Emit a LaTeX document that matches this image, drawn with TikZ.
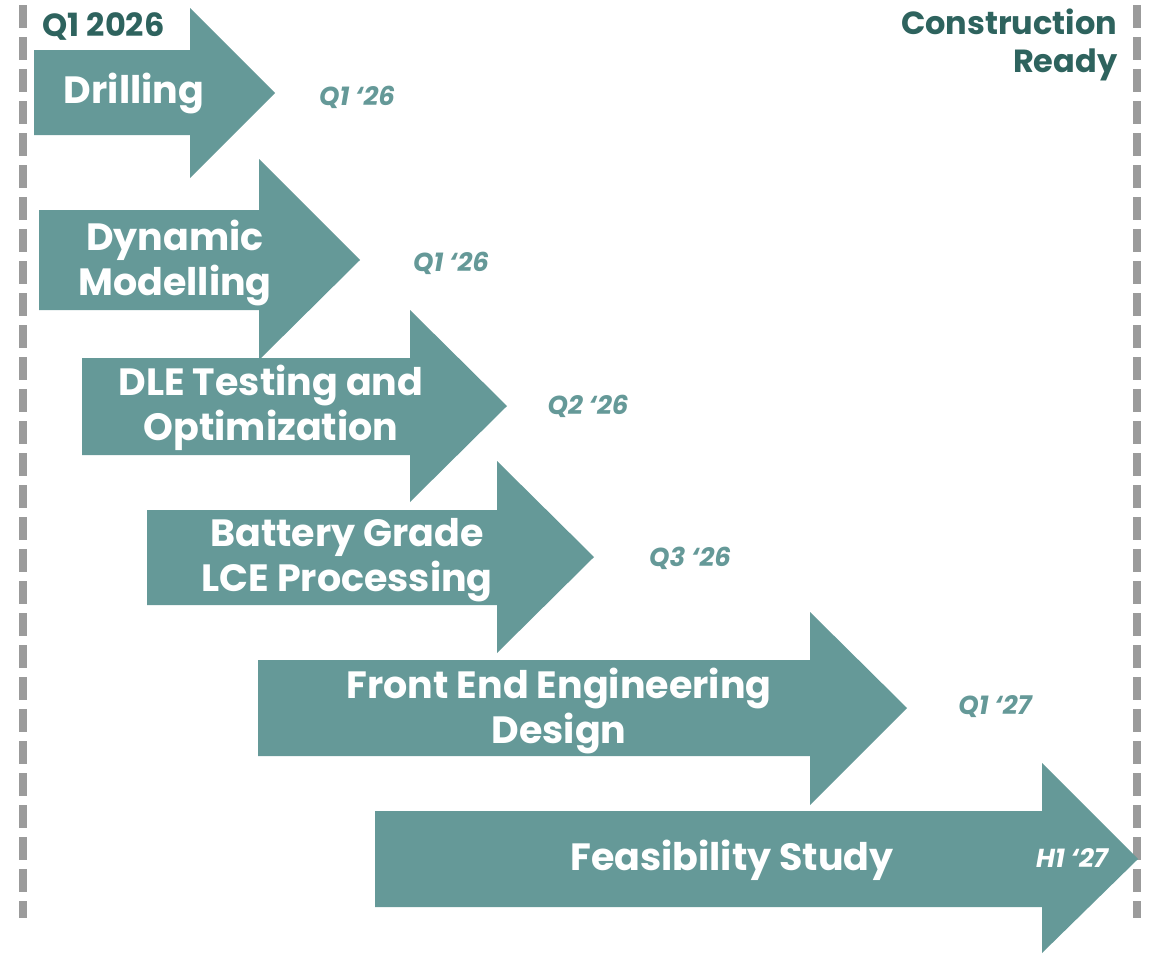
\documentclass[tikz,border=0pt]{standalone}
\usepackage{fontspec}
\setmainfont{Poppins}
\definecolor{stagefill}{RGB}{101,153,152}
\definecolor{tealdark}{RGB}{46,99,94}
\definecolor{guidegray}{RGB}{155,155,155}

\begin{document}
\begin{tikzpicture}[x=0.75pt,y=-0.75pt,
  stage/.style={fill=stagefill},
  stagelbl/.style={text=white,align=center,font=\bfseries\fontsize{28.5}{33.5}\selectfont},
  due/.style={text=stagefill,font=\bfseries\itshape\fontsize{19.5}{22}\selectfont},
  edge/.style={text=tealdark,font=\bfseries\fontsize{24}{29}\selectfont},
  guide/.style={guidegray,line width=6pt,dash pattern=on 17.5pt off 6.5pt}]

\useasboundingbox (0,0) rectangle (1155,953);

% start and end lines
\draw[guide] (23,5) -- (23,918);
\draw[guide] (1137,5) -- (1137,918);
\node[edge,anchor=west] (start) at (38,26) {Q1 2026};
\node[edge,anchor=east,align=right] (ready) at (1122,45) {Construction\\Ready};

% (1) drilling
\fill[stage] (34,50) -- (190,50) -- (190,8) -- (275,93) -- (190,178) -- (190,135) -- (34,135) -- cycle;
\node[stagelbl] (drill) at (134,94) {Drilling};
\node[due] (drilld) at (357,97) {Q1 ‘26};

% (2) dynamic modelling
\fill[stage] (39,210) -- (259,210) -- (259,159) -- (360,260) -- (259,360) -- (259,310) -- (39,310) -- cycle;
\node[stagelbl] (model) at (175,263) {Dynamic\\Modelling};
\node[due] (modeld) at (451,263) {Q1 ‘26};

% (3) DLE testing
\fill[stage] (82,358) -- (410,358) -- (410,310) -- (507,406) -- (410,502) -- (410,455) -- (82,455) -- cycle;
\node[stagelbl] (dle) at (271,408) {DLE Testing and\\Optimization};
\node[due] (dled) at (588,406) {Q2 ‘26};

% (4) LCE processing
\fill[stage] (147,510) -- (497,510) -- (497,461) -- (594,557) -- (497,653) -- (497,605) -- (147,605) -- cycle;
\node[stagelbl] (lce) at (347,560) {Battery Grade\\LCE Processing};
\node[due] (lced) at (690,558) {Q3 ‘26};

% (5) FEED
\fill[stage] (258,660) -- (810,660) -- (810,612) -- (907,708) -- (810,805) -- (810,756) -- (258,756) -- cycle;
\node[stagelbl] (feed) at (559,711) {Front End Engineering\\Design};
\node[due] (feedd) at (995,707) {Q1 ‘27};

% (6) feasibility
\fill[stage] (375,811) -- (1042,811) -- (1042,763) -- (1138,859) -- (1042,953) -- (1042,907) -- (375,907) -- cycle;
\node[stagelbl] (fs) at (732,860) {Feasibility Study};
\node[due,text=white] (fsd) at (1072,858) {H1 ‘27};

\end{tikzpicture}
\end{document}
